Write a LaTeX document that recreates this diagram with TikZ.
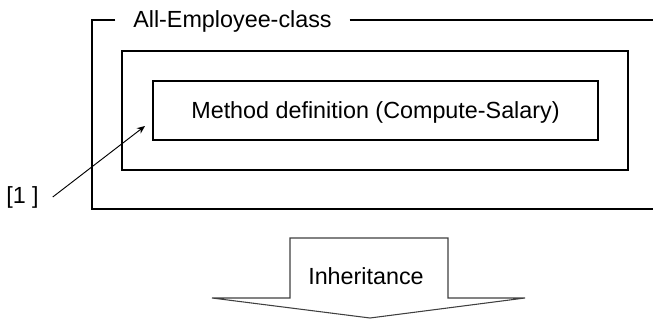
\documentclass[tikz,border=0pt]{standalone}
\usepackage{fontspec}
\setmainfont{Liberation Sans}
\usetikzlibrary{arrows.meta,positioning,calc}

\begin{document}
\begin{tikzpicture}[x=0.75pt,y=-0.75pt,line width=0.9pt,every node/.style={font=\fontsize{17.5}{21}\selectfont,align=center,text depth=0pt}]
    \useasboundingbox (0,0) rectangle (653,320);
    % class frame with its title in the top edge
    \node[inner xsep=13pt] (title) at (232.5,19.5) {All-Employee-class};
    \coordinate (nw) at (92,20);
    \coordinate (sw) at (92,209);
    \coordinate (se) at (653,209);
    \coordinate (ne) at (653,20);
    \draw (title.west |- nw) -- (nw) -- (sw) -- (se);
    \draw (title.east |- ne) -- (ne);
    \node[draw,minimum width=379.5pt,minimum height=89.25pt] (body) at (375,110.5) {};
    \node[draw,minimum width=333.75pt,minimum height=44.25pt] (method) at (375.5,110.5) {Method definition (Compute-Salary)};
    % callout
    \node (ref) at (22.5,195) {[1 ]};
    \coordinate (tip) at (145,126);
    \draw[-{Stealth[length=6pt,width=5pt]},line width=0.7pt] ($(ref.east)+(9,2)$) -- (tip);
    % block arrow
    \draw[fill=white,draw=black!75,line width=0.8pt] (290,298) -- (290,238) -- (448,238) -- (448,298) -- (525,298) -- (370,318) -- (212,298) -- cycle;
    \node (inherit) at (366,276.5) {Inheritance};
  \end{tikzpicture}
\end{document}
